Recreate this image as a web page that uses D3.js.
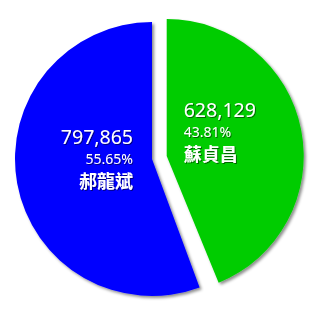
<!DOCTYPE html>
<html>
<head>
<meta charset="utf-8">
<script src="https://cdn.jsdelivr.net/npm/d3@7"></script>
<style>
    body { margin: 0; background: #fff; }
    svg { display: block; }
    .num { font-family: "Noto Sans", sans-serif; fill: #fff; }
    .name { font-family: "Noto Sans CJK TC", sans-serif; font-weight: bold; fill: #fff; }
</style>
</head>
<body>
<div id="chart"></div>
<script>
const names = ["蘇貞昌", "其他", "郝龍斌"]
const votes = [628129, 7742, 797865]
const percents = ["43.81%", "0.54%", "55.65%"]
const colors = ["#00cc00", "none", "#0000ff"]
const exploded = [true, false, false]
const labelled = [true, false, true]

const width = 320
const height = 316
const cx = 152
const cy = 159
const radius = 137
const explode = 15

const svg = d3.select("#chart").append("svg")
    .attr("width", width)
    .attr("height", height)

const defs = svg.append("defs")
const shadow = defs.append("filter").attr("id", "shadow")
    .attr("x", "-10%").attr("y", "-10%").attr("width", "130%").attr("height", "130%")
shadow.append("feDropShadow")
    .attr("dx", 2).attr("dy", 2).attr("stdDeviation", 1.5)
    .attr("flood-color", "#000").attr("flood-opacity", 0.45)

const textShadow = defs.append("filter").attr("id", "textShadow")
textShadow.append("feDropShadow")
    .attr("dx", 1).attr("dy", 1).attr("stdDeviation", 0.6)
    .attr("flood-color", "#000").attr("flood-opacity", 0.5)

const pie = d3.pie().sort(null).value(d => d)
const arc = d3.arc().innerRadius(0).outerRadius(radius)
const arcs = pie(votes)

function offset(d, i) {
    if (!exploded[i]) return [0, 0]
    const a = (d.startAngle + d.endAngle) / 2
    return [explode * Math.sin(a), -explode * Math.cos(a)]
}

const g = svg.append("g").attr("transform", `translate(${cx},${cy})`)

const slices = g.selectAll("g.slice").data(arcs).enter().append("g")
    .classed("slice", true)
    .attr("transform", (d, i) => {
        const o = offset(d, i)
        return `translate(${o[0]},${o[1]})`
    })

slices.append("path")
    .attr("d", arc)
    .attr("fill", (d, i) => colors[i])
    .attr("filter", (d, i) => colors[i] == "none" ? null : "url(#shadow)")

// label layout: [anchor, dx, y of number, y of percent, y of name]
const layout = [
    ["start", 17, -39, -19, 5],
    null,
    ["end", -19, -15, 5, 29]
]

slices.filter((d, i) => labelled[i]).each(function (d) {
    const i = d.index
    const l = layout[i]
    const s = d3.select(this).append("g").attr("filter", "url(#textShadow)")
        .attr("text-anchor", l[0])
    s.append("text").classed("num", true)
        .attr("x", l[1]).attr("y", l[2])
        .attr("font-size", 19.5)
        .text(d3.format(",")(votes[i]))
    s.append("text").classed("num", true)
        .attr("x", l[1]).attr("y", l[3])
        .attr("font-size", 14)
        .text(percents[i])
    s.append("text").classed("name", true)
        .attr("x", l[1]).attr("y", l[4])
        .attr("font-size", 18)
        .text(names[i])
})
</script>
</body>
</html>
